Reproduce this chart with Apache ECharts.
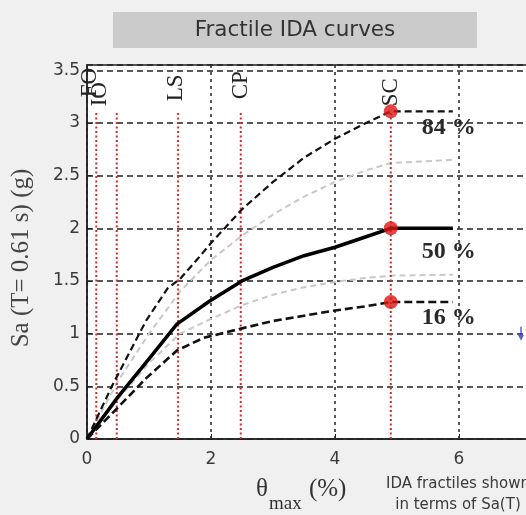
<!DOCTYPE html>
<html>
<head>
<meta charset="utf-8">
<script src="https://cdn.jsdelivr.net/npm/echarts@6/dist/echarts.min.js"></script>
<style>
  html, body { margin: 0; padding: 0; background: #f0f0f0; }
  #chart { width: 526px; height: 515px; }
</style>
</head>
<body>
<div id="chart"></div>
<script>
// Limit states marked on the drift axis (theta_max, %)
const limitStates = ['FO', 'IO', 'LS', 'CP', 'SC'];
const limitDrift = [0.15, 0.48, 1.47, 2.48, 4.9];
const limitTopSa = 3.11;

// Fractile IDA curves: [theta_max (%), Sa(T1) (g)]
const frac84 = [[0, 0], [0.4, 0.5], [0.95, 1.12], [1.3, 1.43], [1.5, 1.52], [1.8, 1.72], [2.0, 1.86],
  [2.5, 2.18], [3.0, 2.44], [3.5, 2.67], [4.0, 2.85], [4.5, 3.0], [4.9, 3.11], [5.9, 3.11]];
const frac50 = [[0, 0], [0.5, 0.4], [1.0, 0.76], [1.45, 1.09], [1.98, 1.31], [2.5, 1.5], [3.0, 1.63],
  [3.5, 1.74], [4.0, 1.82], [4.5, 1.92], [4.9, 2.0], [5.9, 2.0]];
const frac16 = [[0, 0], [0.5, 0.3], [0.96, 0.58], [1.45, 0.84], [1.88, 0.96], [2.5, 1.05], [3.0, 1.12],
  [3.5, 1.17], [4.0, 1.22], [4.5, 1.26], [4.9, 1.30], [5.9, 1.30]];
// Intermediate fractiles drawn in light grey
const fracUpper = [[0, 0], [0.5, 0.55], [1.0, 1.0], [1.5, 1.4], [2.0, 1.7], [2.5, 1.93], [3.0, 2.13],
  [3.5, 2.3], [4.0, 2.44], [4.5, 2.55], [4.9, 2.62], [5.9, 2.65]];
const fracLower = [[0, 0], [0.5, 0.38], [1.0, 0.72], [1.5, 1.0], [2.0, 1.14], [2.5, 1.27], [3.0, 1.37],
  [3.5, 1.44], [4.0, 1.49], [4.5, 1.53], [4.9, 1.55], [5.9, 1.56]];
const fracNames = ['84 %', '50 %', '16 %'];

// Capacity points at the SC limit state
const capacityPoints = [[4.9, 3.11], [4.9, 2.0], [4.9, 1.30]];
// Small marker at the right edge
const blueMarker = [[7.0, 1.0]];

const yTicks = { min: 0, max: 3.55, interval: 0.5 };
const xTicks = { min: 0, max: 8, interval: 2 };

const serif = 'Liberation Serif';
const sans = 'DejaVu Sans';

const chart = echarts.init(document.getElementById('chart'), null, { renderer: 'canvas' });

// label offsets are in the rotated frame: [along the text (up), across it (right)]
const labelOffsets = { FO: [3, -6], IO: [-6, -17], LS: [-1, -2], CP: [1, 0], SC: [-6, 0] };

const limitSeries = limitStates.map((name, i) => ({
  type: 'line',
  name: name,
  data: [[limitDrift[i], 0], { value: [limitDrift[i], limitTopSa], label: { show: true } }],
  symbol: 'circle',
  symbolSize: 0,
  showSymbol: true,
  silent: true,
  z: 3,
  lineStyle: { color: '#d42a2a', width: 2, type: [2, 2.5] },
  label: {
    show: false,
    formatter: name,
    position: 'top',
    rotate: 90,
    align: 'left',
    verticalAlign: 'middle',
    distance: 11,
    offset: labelOffsets[name],
    fontFamily: serif,
    fontSize: 23,
    color: '#222'
  }
}));

function fracLabel(text, dy) {
  return {
    show: true,
    formatter: text,
    position: 'bottom',
    distance: 0,
    offset: [-4, dy],
    fontFamily: serif,
    fontWeight: 'bold',
    fontSize: 24,
    color: '#2a2a2a'
  };
}

function withEndLabel(data, text, dy) {
  return data.map((p, i) => i === data.length - 1 ? { value: p, label: fracLabel(text, dy) } : p);
}

const option = {
  animation: false,
  backgroundColor: '#f0f0f0',
  title: [
    {
      text: '{t|θ}{s|max}{t| (%)}',
      left: 251,
      top: 472,
      textStyle: {
        rich: {
          t: { fontFamily: serif, fontSize: 25, fontWeight: 'normal', color: '#333', lineHeight: 28, verticalAlign: 'top' },
          s: { fontFamily: serif, fontSize: 19, fontWeight: 'normal', color: '#333', lineHeight: 19, padding: [18, 1, 0, 1], verticalAlign: 'top' }
        }
      }
    },
    {
      text: 'IDA fractiles shown\nin terms of Sa(T)',
      left: 453,
      top: 469,
      textAlign: 'center',
      textStyle: { fontFamily: sans, fontSize: 15, fontWeight: 'normal', color: '#3a3a3a', lineHeight: 21 }
    }
  ],
  graphic: [
    {
      type: 'group',
      left: 113,
      top: 12,
      children: [
        { type: 'rect', shape: { x: 0, y: 0, width: 364, height: 36 }, style: { fill: '#cbcbcb' } },
        {
          type: 'text',
          x: 182, y: 18,
          style: {
            text: 'Fractile IDA curves',
            font: '21.5px "DejaVu Sans"',
            fill: '#333',
            align: 'center',
            verticalAlign: 'middle'
          }
        }
      ]
    }
  ],
  grid: {
    left: 87,
    top: 65,
    right: -57,
    bottom: 76,
    outerBoundsMode: 'none',
    containLabel: false,
    show: true,
    backgroundColor: '#ffffff',
    borderColor: '#222',
    borderWidth: 1.5
  },
  xAxis: {
    type: 'value',
    min: xTicks.min,
    max: xTicks.max,
    interval: xTicks.interval,
    axisLine: { show: true, onZero: false, lineStyle: { color: '#222', width: 1.5 } },
    axisTick: { show: true, inside: true, length: 5, lineStyle: { color: '#222' } },
    axisLabel: { margin: 12, fontFamily: sans, fontSize: 17, color: '#3a3a3a' },
    splitLine: { show: true, lineStyle: { color: '#222', width: 1.5, type: [3, 4] } }
  },
  yAxis: {
    type: 'value',
    min: yTicks.min,
    max: yTicks.max,
    interval: yTicks.interval,
    name: 'Sa (T= 0.61 s) (g)',
    nameLocation: 'middle',
    nameRotate: 90,
    nameGap: 53,
    nameTextStyle: { fontFamily: serif, fontSize: 25, color: '#444', padding: [0, 0, 0, -12] },
    axisLine: { show: true, lineStyle: { color: '#222', width: 1.5 } },
    axisTick: { show: true, inside: true, length: 5, lineStyle: { color: '#222' } },
    axisLabel: {
      margin: 7,
      showMaxLabel: false,
      fontFamily: sans,
      fontSize: 17,
      color: '#3a3a3a',
      formatter: v => String(v)
    },
    splitLine: { show: true, lineStyle: { color: '#222', width: 1.5, type: [6, 4] } }
  },
  series: [
    {
      type: 'line', name: 'upper', data: fracUpper, symbol: 'none', z: 2, silent: true,
      lineStyle: { color: '#c8c8c8', width: 2, type: [6, 4] }
    },
    {
      type: 'line', name: 'lower', data: fracLower, symbol: 'none', z: 2, silent: true,
      lineStyle: { color: '#c8c8c8', width: 2, type: [6, 4] }
    },
    ...limitSeries,
    {
      type: 'line', name: fracNames[0], data: withEndLabel(frac84, fracNames[0], 4),
      symbol: 'circle', symbolSize: 0, showSymbol: true, z: 5, silent: true,
      lineStyle: { color: '#111', width: 2.2, type: [7, 4] }
    },
    {
      type: 'line', name: fracNames[1], data: withEndLabel(frac50, fracNames[1], 12),
      symbol: 'circle', symbolSize: 0, showSymbol: true, z: 5, silent: true,
      lineStyle: { color: '#000', width: 3.5 }
    },
    {
      type: 'line', name: fracNames[2], data: withEndLabel(frac16, fracNames[2], 4),
      symbol: 'circle', symbolSize: 0, showSymbol: true, z: 5, silent: true,
      lineStyle: { color: '#111', width: 2.6, type: [8, 4] }
    },
    {
      type: 'scatter', name: 'capacity', data: capacityPoints, symbol: 'circle', symbolSize: 14, z: 6,
      itemStyle: { color: '#dd1515' }
    },
    {
      type: 'scatter', name: 'marker', data: blueMarker, z: 6,
      symbol: 'path://M4,0 h2 v9 h3 l-4,6 l-4,-6 h3 z', symbolSize: [6, 14],
      itemStyle: { color: '#2a3fd0' }
    }
  ]
};

chart.setOption(option);
</script>
</body>
</html>
